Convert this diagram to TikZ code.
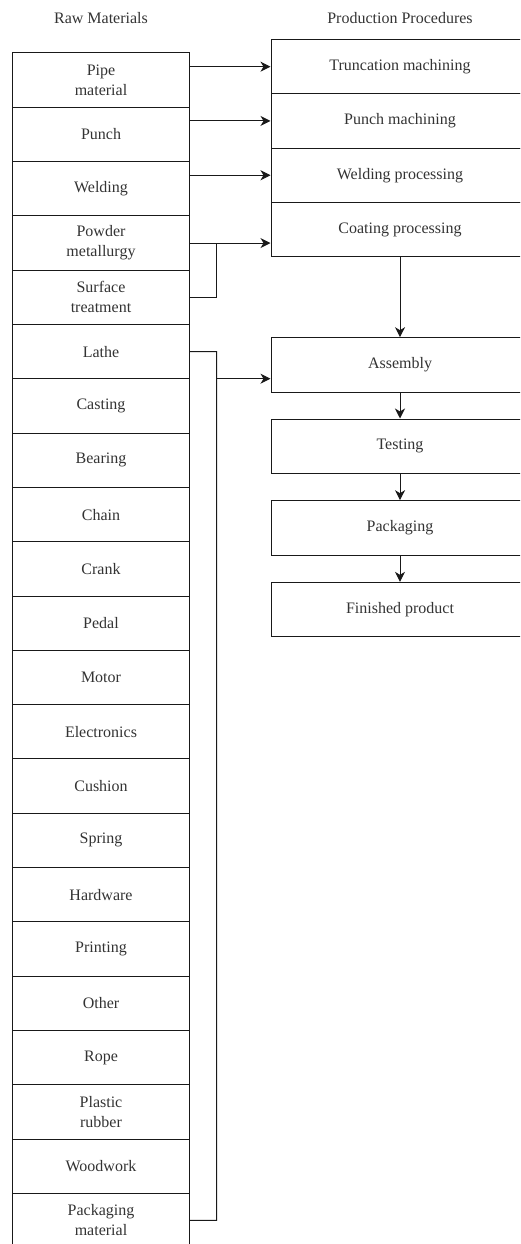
\documentclass[tikz,border=0pt]{standalone}
\usepackage{fontspec}
\setmainfont{Liberation Serif}
\usetikzlibrary{arrows.meta}
\begin{document}
\begin{tikzpicture}[x=1pt,y=-1pt,
  txt/.style={text=black!80, font=\fontsize{16}{20}\selectfont, align=center},
  matbox/.style={txt, draw=black!90, line width=1pt, minimum width=177pt, minimum height=54.3pt, inner sep=0pt},
  procbox/.style={txt, draw=black!90, line width=1pt, minimum width=258pt, minimum height=54.3pt, inner sep=0pt},
  heading/.style={txt},
  link/.style={draw=black!90, line width=1pt},
  arr/.style={link, -{Stealth[length=10pt, width=10pt, inset=3pt]}}]
\clip (0,0) rectangle (520,1244);
\useasboundingbox (0,0) rectangle (520,1244);

% column headings
\node[heading] (hraw) at (101,18.3) {Raw Materials};
\node[heading] (hproc) at (400,18.3) {Production Procedures};

% raw material column
\foreach \i/\t in {1/{Pipe\\material}, 2/Punch, 3/Welding, 4/{Powder\\metallurgy},
  5/{Surface\\treatment}, 6/Lathe, 7/Casting, 8/Bearing, 9/Chain, 10/Crank,
  11/Pedal, 12/Motor, 13/Electronics, 14/Cushion, 15/Spring, 16/Hardware,
  17/Printing, 18/Other, 19/Rope, 20/{Plastic\\rubber}, 21/Woodwork,
  22/{Packaging\\material}}
  \node[matbox] (l\i) at (101, {53 + 54.3*(\i - 0.5)}) {\t};

% machining procedures
\node[procbox] (r1) at (400,66.65) {Truncation machining};
\node[procbox] (r2) at (400,120.95) {Punch machining};
\node[procbox] (r3) at (400,175.25) {Welding processing};
\node[procbox] (r4) at (400,229.55) {Coating processing};

% assembly line
\node[procbox] (a1) at (400,364.85) {Assembly};
\node[procbox] (a2) at (400,446.15) {Testing};
\node[procbox] (a3) at (400,527.85) {Packaging};
\node[procbox] (a4) at (400,609.5) {Finished product};

% material feeds
\draw[arr] (l1.east |- r1.west) -- (r1.west);
\draw[arr] (l2.east |- r2.west) -- (r2.west);
\draw[arr] (l3.east |- r3.west) -- (r3.west);
\draw[arr] (l4.east) -- (r4.west |- l4.east);
\coordinate (j1) at (216.7, 243.05);
\draw[link] (l5.east) -| (j1);

% bus from the remaining materials to assembly
\coordinate (b1) at (216.7, 351.65);
\coordinate (b2) at (216.7, 1220.45);
\coordinate (b3) at (216.7, 378.7);
\draw[link] (l6.east) -- (b1) -- (b2) -- (l22.east);
\draw[arr] (b3) -- (a1.west |- b3);

% process flow
\draw[arr] (r4.south) -- (a1.north);
\draw[arr] (a1.south) -- (a2.north);
\draw[arr] (a2.south) -- (a3.north);
\draw[arr] (a3.south) -- (a4.north);
\end{tikzpicture}
\end{document}
